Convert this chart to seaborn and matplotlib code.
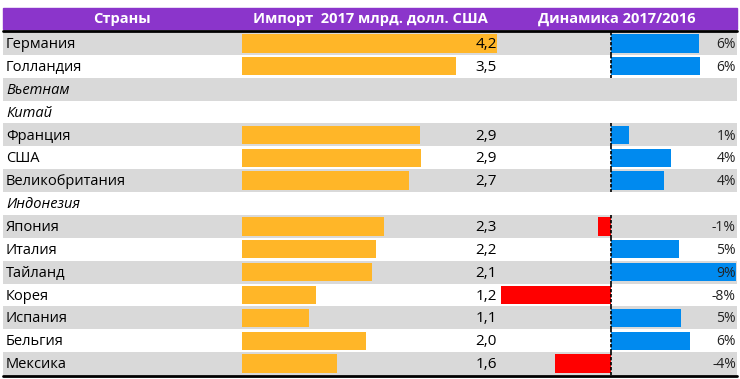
import numpy as np
import pandas as pd
import matplotlib
matplotlib.use("Agg")
import matplotlib.pyplot as plt
import matplotlib.transforms as mtransforms
from matplotlib.patches import Rectangle
from matplotlib.lines import Line2D
import seaborn as sns

# data
countries = ["Германия", "Голландия", "Вьетнам", "Китай", "Франция", "США",
             "Великобритания", "Индонезия", "Япония", "Италия", "Тайланд",
             "Корея", "Испания", "Бельгия", "Мексика"]
italic_rows = ["Вьетнам", "Китай", "Индонезия"]
import_bn = [4.20, 3.53, np.nan, np.nan, 2.93, 2.94, 2.74, np.nan, 2.34,
             2.20, 2.14, 1.21, 1.10, 2.04, 1.56]
dynamics_pct = [6.4, 6.45, np.nan, np.nan, 1.35, 4.4, 3.85, np.nan, -0.92,
                4.95, 9.07, -7.95, 5.09, 5.75, -4.05]
headers = ["Страны", "Импорт  2017 млрд. долл. США", "Динамика 2017/2016"]

df = pd.DataFrame({"country": countries, "imp": import_bn, "dyn": dynamics_pct})
df["sign"] = np.where(df["dyn"].isna(), None, np.where(df["dyn"] >= 0, "pos", "neg"))

ORANGE = "#FFB628"
BLUE = "#008AEF"
RED = "#FF0000"
GRAY = "#D9D9D9"
PURPLE = "#8B35CB"

sns.set_style("white")
plt.rcParams["font.family"] = ["Open Sans", "DejaVu Sans"]
plt.rcParams["font.size"] = 10.5

W, H = 740, 379


def box(x0, y0, x1, y1):
    return [x0 / W, 1 - y1 / H, (x1 - x0) / W, (y1 - y0) / H]


fig = plt.figure(figsize=(7.4, 3.79), dpi=100)
fig.patch.set_facecolor("white")

# header
fig.patches.append(Rectangle((3 / W, 1 - 29 / H), 734 / W, 21 / H,
                             transform=fig.transFigure, color=PURPLE, zorder=0))
for xc, t in zip([122, 370, 617], headers):
    fig.text(xc / W, 1 - 18.5 / H, t, color="white", fontweight="bold",
             ha="center", va="center", fontsize=10.5)
fig.lines.append(Line2D([3 / W, 737 / W], [1 - 30.5 / H] * 2,
                        transform=fig.transFigure, color="black", lw=2))

# row backgrounds + country names
ax_bg = fig.add_axes(box(3, 32, 737, 375))
ax_bg.set_ylim(len(countries) - 0.5, -0.5)
for i in range(0, len(countries), 2):
    ax_bg.axhspan(i - 0.5, i + 0.5, color=GRAY, lw=0)
tr = mtransforms.blended_transform_factory(ax_bg.transAxes, ax_bg.transData)
for i, c in enumerate(countries):
    ax_bg.text(0.004, i + 0.05, c, transform=tr, ha="left", va="center",
               color="black",
               style="italic" if c in italic_rows else "normal")
ax_bg.axis("off")

# import bars
ax_imp = fig.add_axes(box(240, 32, 500, 375))
ax_imp.patch.set_alpha(0)
sns.barplot(data=df, x="imp", y="country", order=countries, color=ORANGE,
            width=0.8, orient="h", ax=ax_imp, saturation=1, linewidth=0)
ax_imp.set_xlim(-0.041, 4.25)
ax_imp.set_ylim(len(countries) - 0.5, -0.5)
tr = mtransforms.blended_transform_factory(ax_imp.transAxes, ax_imp.transData)
for i, v in enumerate(import_bn):
    if not np.isnan(v):
        ax_imp.text(0.988, i + 0.05, f"{v:.1f}".replace(".", ","), transform=tr,
                    ha="right", va="center", fontsize=11, color="black")
ax_imp.axis("off")

# dynamics bars
ax_dyn = fig.add_axes(box(500, 32, 740, 375))
ax_dyn.patch.set_alpha(0)
sns.barplot(data=df, x="dyn", y="country", order=countries, hue="sign",
            hue_order=["pos", "neg"], palette={"pos": BLUE, "neg": RED},
            dodge=False, legend=False, width=0.8, orient="h", ax=ax_dyn,
            saturation=1, linewidth=0)
ax_dyn.set_xlim(-8.02, 9.37)
ax_dyn.set_ylim(len(countries) - 0.5, -0.5)
tr = mtransforms.blended_transform_factory(ax_dyn.transAxes, ax_dyn.transData)
for i, v in enumerate(dynamics_pct):
    if not np.isnan(v):
        ax_dyn.vlines(0, i - 0.5, i + 0.5, colors="black", lw=1.2,
                      linestyles=(0, (2, 1)))
        ax_dyn.text(0.983, i + 0.05, f"{round(v):d}%", transform=tr,
                    ha="right", va="center", fontsize=10, color="#222222")
ax_dyn.axis("off")

fig.lines.append(Line2D([3 / W, 737 / W], [1 - 375.5 / H] * 2,
                        transform=fig.transFigure, color="black", lw=2))

fig.savefig("out.png", dpi=100)
plt.close(fig)
